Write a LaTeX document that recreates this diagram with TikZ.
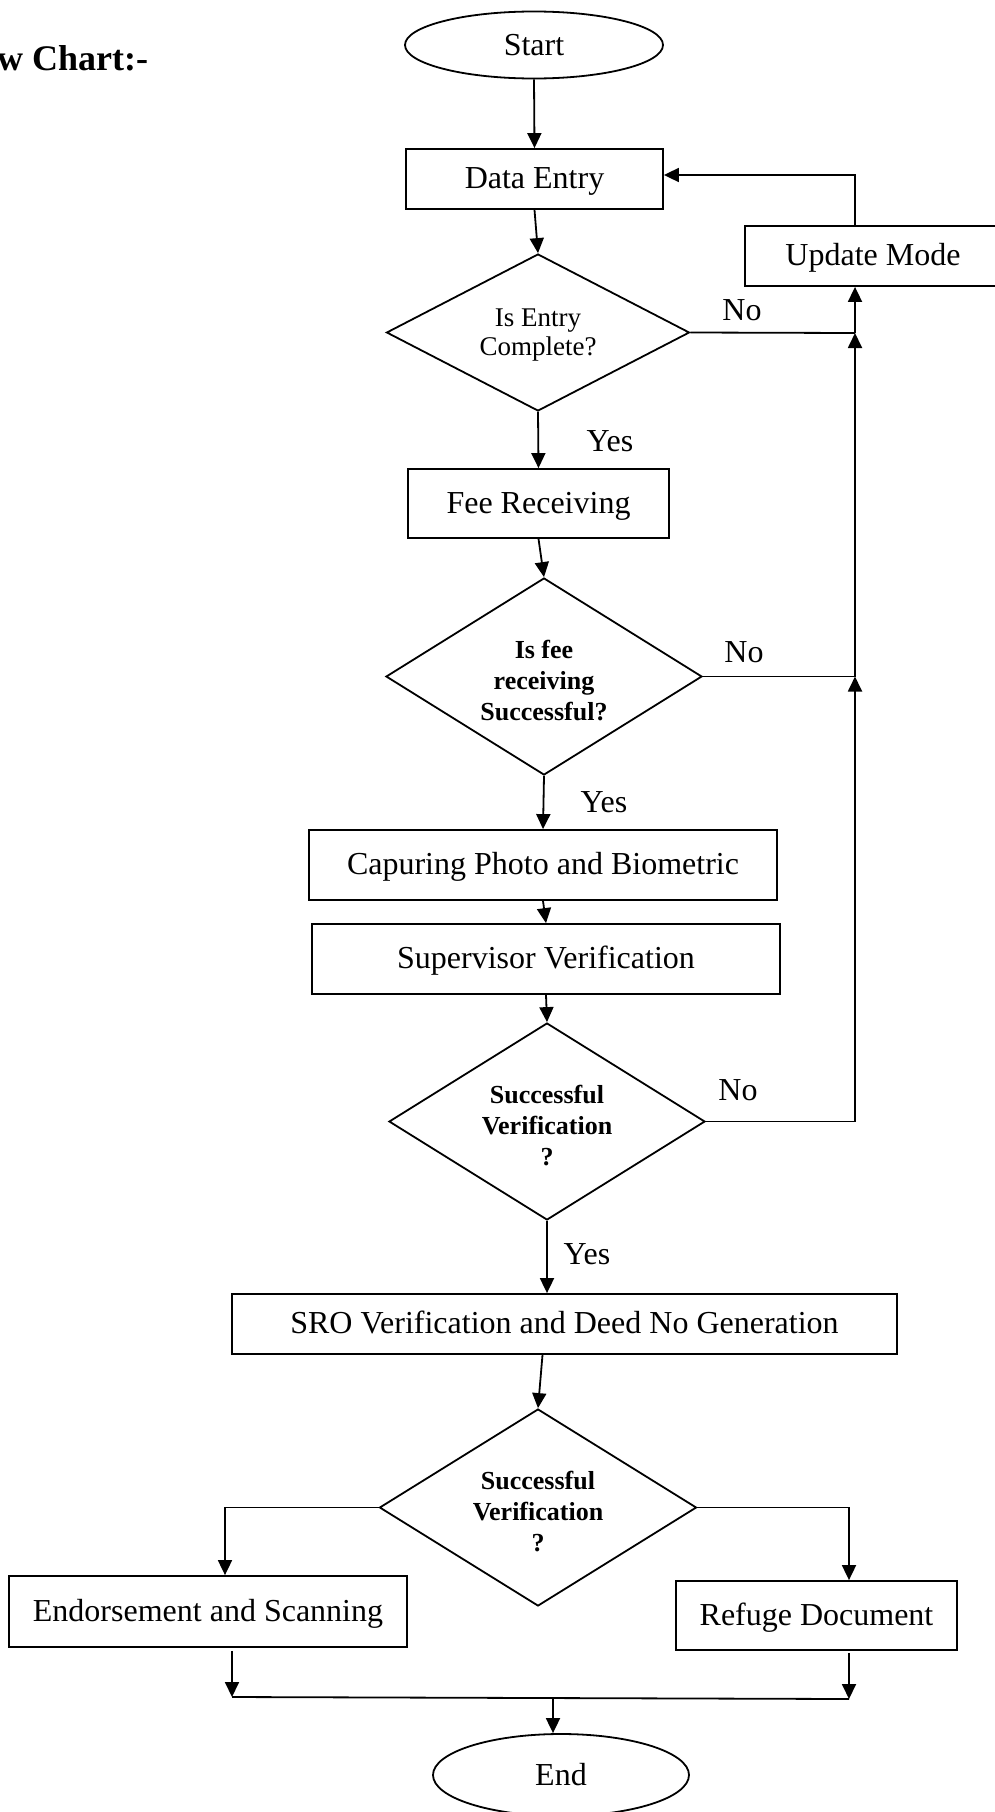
\documentclass[tikz,border=0pt]{standalone}
\usepackage{fontspec}
\setmainfont{Liberation Serif}
\usetikzlibrary{shapes.geometric,arrows.meta}
\tikzset{
  base/.style={draw=black,line width=1.8pt,inner sep=0pt,align=center,
    font=\fontsize{32}{37}\selectfont},
  box/.style={base,rectangle,text height=21pt,text depth=2pt},
  oval/.style={base,ellipse},
  decide/.style={base,diamond},
  qnormal/.style={font=\fontsize{27}{29}\selectfont,text depth=0pt},
  qbold/.style={font=\fontsize{26}{31}\selectfont\bfseries,text height=87pt,text depth=0pt},
  arr/.style={line width=1.8pt,-{Triangle[length=15pt,width=14pt]}},
  ln/.style={line width=1.8pt},
  lbl/.style={inner sep=0pt,font=\fontsize{32}{37}\selectfont}
}
\begin{document}
\begin{tikzpicture}[x=1pt,y=-1pt]
\useasboundingbox (0,0) rectangle (995,1812);
\clip (0,0) rectangle (995,1812);
\fill[white] (0,0) rectangle (995,1812);

\node[anchor=base west,inner sep=0pt,font=\fontsize{36}{40}\selectfont\bfseries] (title) at (-3,70) {w Chart:-};

\node[oval,minimum width=258pt,minimum height=67pt] (start) at (534,45) {Start};
\node[box,minimum width=257pt,minimum height=60pt] (data) at (534.5,179) {Data Entry};
\node[box,minimum width=256pt,minimum height=60pt] (update) at (873,256) {Update Mode};
\node[decide,qnormal,minimum width=303pt,minimum height=157pt,aspect=1.9] (d1) at (538,332.5) {Is Entry\\Complete?};
\node[box,minimum width=261pt,minimum height=69pt] (fee) at (538.5,503.5) {Fee Receiving};
\node[decide,qbold,minimum width=316pt,minimum height=197pt,aspect=1.6] (d2) at (544,676.5) {Is fee\\receiving\\Successful?};
\node[box,minimum width=468pt,minimum height=70pt] (cap) at (543,865) {Capuring Photo and Biometric};
\node[box,minimum width=468pt,minimum height=70pt] (sup) at (546,959) {Supervisor Verification};
\node[decide,qbold,minimum width=316pt,minimum height=197pt,aspect=1.6] (d3) at (547,1121.5) {Successful\\Verification\\?};
\node[box,minimum width=665pt,minimum height=60pt] (sro) at (564.5,1324) {SRO Verification and Deed No Generation};
\node[decide,qbold,minimum width=317pt,minimum height=197pt,aspect=1.6] (d4) at (538,1507.5) {Successful\\Verification\\?};
\node[box,minimum width=398pt,minimum height=71pt] (endo) at (208,1611.5) {Endorsement and Scanning};
\node[box,minimum width=281pt,minimum height=69pt] (refuge) at (816.5,1615.5) {Refuge Document};
\node[oval,minimum width=256pt,minimum height=82pt] (end) at (561,1775) {End};

% coordinates for the loop-back line and joins
\coordinate (r1) at (855,333);
\coordinate (r2) at (855,676.5);
\coordinate (j1) at (232,1697);
\coordinate (j2) at (849,1699);
\coordinate (jm) at (553,1698);

% main flow
\draw[arr] (start.south) -- (data.north);
\draw[arr] (data.south) -- (d1.north);
\draw[arr] (d1.south) -- (fee.north);
\draw[arr] (fee.south) -- (d2.north);
\draw[arr] (d2.south) -- (cap.north);
\draw[arr] (cap.south) -- (sup.north);
\draw[arr] (sup.south) -- (d3.north);
\draw[arr] (d3.south) -- (d3.south |- sro.north);
\draw[arr] ([xshift=-22pt]sro.south) -- (d4.north);

% "No" branches
\draw[ln] (d1.east) -- (r1);
\draw[ln] (d2.east) -- (r2);
\draw[arr] (d3.east) -| (r2);
\draw[arr] (r2) -- (r1);
\draw[arr] (r1) -- (r1 |- update.south);
\draw[arr] (r1 |- update.north) |- ([yshift=4pt]data.east);

% final branches
\draw[arr] (d4.west) -| ([xshift=17pt]endo.north);
\draw[arr] (d4.east) -| ([xshift=32.5pt]refuge.north);
\draw[arr] ([yshift=-3pt]endo.south -| j1) -- (j1);
\draw[arr] ([yshift=-2pt]refuge.south -| j2) -- (j2);
\draw[ln] (j1) -- (j2);
\draw[arr] (jm) -- (jm |- end.north);

% labels
\node[lbl] (no1) at (742,310) {No};
\node[lbl] (no2) at (744,652) {No};
\node[lbl] (no3) at (738,1090) {No};
\node[lbl] (yes1) at (610,441) {Yes};
\node[lbl] (yes2) at (604,802) {Yes};
\node[lbl] (yes3) at (587,1254) {Yes};
\end{tikzpicture}
\end{document}
